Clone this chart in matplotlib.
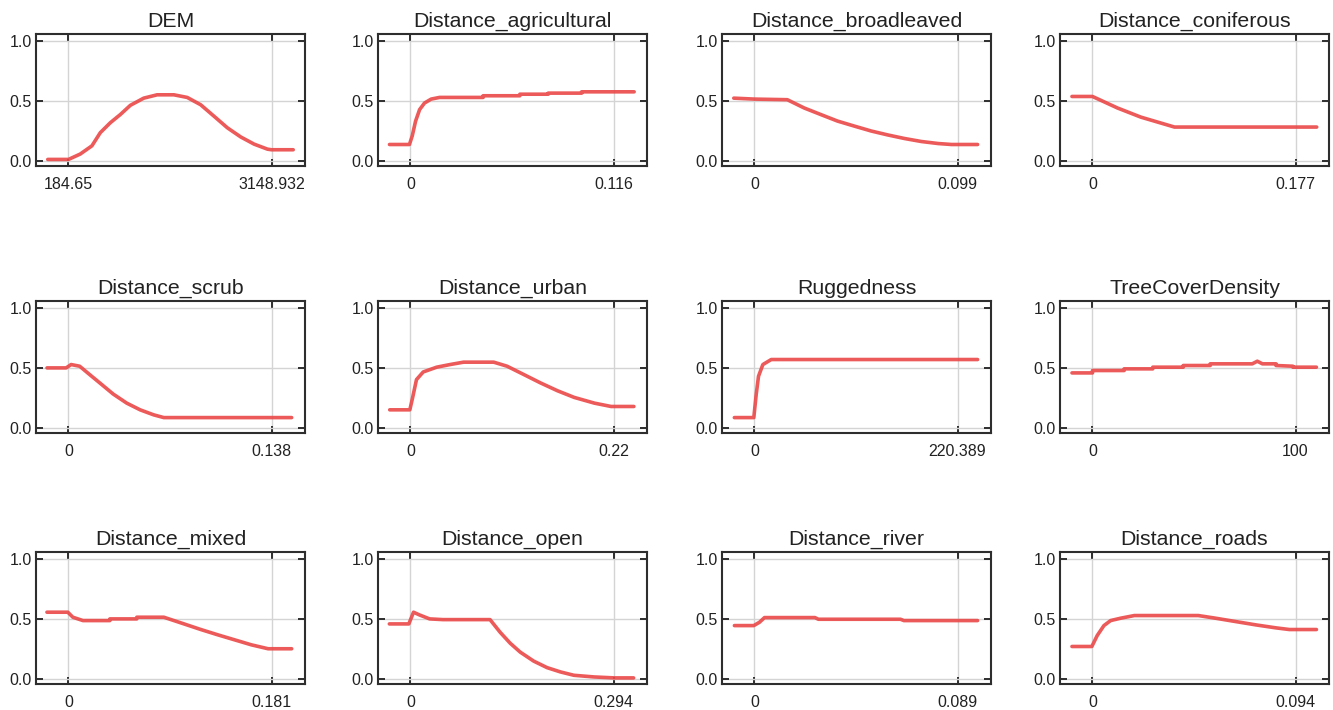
import matplotlib
matplotlib.use("Agg")
import matplotlib.pyplot as plt

plt.rcParams["font.family"] = ["Liberation Sans", "DejaVu Sans"]

# Panel titles, in row order
VARIABLES = [
    "DEM", "Distance_agricultural", "Distance_broadleaved", "Distance_coniferous",
    "Distance_scrub", "Distance_urban", "Ruggedness", "TreeCoverDensity",
    "Distance_mixed", "Distance_open", "Distance_river", "Distance_roads",
]

# Range of each variable (x ticks) and their labels
X_MIN = [184.65, 0, 0, 0, 0, 0, 0, 0, 0, 0, 0, 0]
X_MAX = [3148.932, 0.116, 0.099, 0.177, 0.138, 0.22, 220.389, 100, 0.181, 0.294, 0.089, 0.094]
X_LABELS = [
    ("184.65", "3148.932"), ("0", "0.116"), ("0", "0.099"), ("0", "0.177"),
    ("0", "0.138"), ("0", "0.22"), ("0", "220.389"), ("0", "100"),
    ("0", "0.181"), ("0", "0.294"), ("0", "0.089"), ("0", "0.094"),
]

# Response curves
dem_x = [-118, 184.65, 356, 527, 649, 795, 942, 1088, 1283, 1479, 1723, 1918,
         2114, 2309, 2504, 2700, 2895, 3090, 3148.9, 3466]
dem_y = [0.01, 0.01, 0.055, 0.124, 0.234, 0.317, 0.386, 0.463, 0.523, 0.551, 0.551,
         0.529, 0.468, 0.372, 0.275, 0.198, 0.138, 0.096, 0.091, 0.091]

agri_x = [-0.012, -0.0006, 0.001, 0.0029, 0.0052, 0.008, 0.0118, 0.0166, 0.0415, 0.0415,
          0.0625, 0.0625, 0.0787, 0.0787, 0.0978, 0.0978, 0.1278]
agri_y = [0.135, 0.135, 0.207, 0.33, 0.427, 0.482, 0.515, 0.529, 0.529, 0.543,
          0.543, 0.556, 0.556, 0.565, 0.565, 0.576, 0.576]

broad_x = [-0.0101, 0.0, 0.016, 0.0242, 0.0323, 0.0405, 0.0487, 0.0569, 0.065, 0.0732,
           0.0814, 0.0896, 0.0961, 0.1088]
broad_y = [0.523, 0.515, 0.51, 0.441, 0.386, 0.331, 0.289, 0.248, 0.215, 0.185,
           0.16, 0.143, 0.135, 0.135]

conif_x = [-0.0179, 0.0, 0.0217, 0.0422, 0.0715, 0.1955]
conif_y = [0.537, 0.537, 0.441, 0.364, 0.281, 0.281]

scrub_x = [-0.0146, -0.0016, 0.0018, 0.0076, 0.0144, 0.0213, 0.0304, 0.0396, 0.0487,
           0.0579, 0.0648, 0.1517]
scrub_y = [0.5, 0.5, 0.528, 0.514, 0.444, 0.374, 0.281, 0.205, 0.149, 0.107, 0.084, 0.084]

urban_x = [-0.0225, -0.0007, 0.0022, 0.0065, 0.0138, 0.0284, 0.0429, 0.0575, 0.0902,
           0.1047, 0.1229, 0.141, 0.1592, 0.1774, 0.1993, 0.2174, 0.2421]
urban_y = [0.149, 0.149, 0.247, 0.402, 0.466, 0.506, 0.528, 0.548, 0.548, 0.514,
           0.444, 0.374, 0.309, 0.253, 0.205, 0.177, 0.177]

rugged_x = [-21.86, -0.73, 1.82, 4.37, 9.1, 18.2, 242.2]
rugged_y = [0.084, 0.084, 0.275, 0.43, 0.528, 0.57, 0.57]

tree_x = [-10.1, 0.0, 0.0, 15.6, 15.6, 29.7, 29.7, 44.7, 44.7, 58.0, 58.0, 78.7, 81.2,
          83.7, 90.4, 90.4, 98.7, 98.7, 110.3]
tree_y = [0.458, 0.458, 0.478, 0.478, 0.492, 0.492, 0.506, 0.506, 0.52, 0.52, 0.534,
          0.534, 0.556, 0.534, 0.534, 0.52, 0.514, 0.506, 0.506]

mixed_x = [-0.0192, -0.0006, 0.0039, 0.0129, 0.0369, 0.0369, 0.0609, 0.0609, 0.085,
           0.103, 0.118, 0.133, 0.148, 0.163, 0.178, 0.199]
mixed_y = [0.556, 0.556, 0.514, 0.486, 0.486, 0.5, 0.5, 0.514, 0.514, 0.458, 0.411,
           0.367, 0.325, 0.283, 0.25, 0.25]

open_x = [-0.0306, -0.0024, 0.0044, 0.0131, 0.0277, 0.0471, 0.1152, 0.1297, 0.1443,
          0.1589, 0.1783, 0.1978, 0.2172, 0.2366, 0.2658, 0.2955, 0.3231]
open_y = [0.458, 0.458, 0.556, 0.533, 0.5, 0.494, 0.494, 0.389, 0.297, 0.222, 0.147,
          0.092, 0.056, 0.028, 0.014, 0.006, 0.006]

river_x = [-0.0088, -0.0003, 0.0022, 0.0044, 0.0265, 0.028, 0.064, 0.0655, 0.0978]
river_y = [0.444, 0.444, 0.472, 0.511, 0.511, 0.497, 0.497, 0.486, 0.486]

roads_x = [-0.0095, -0.0003, 0.0022, 0.0053, 0.0084, 0.0131, 0.0194, 0.049, 0.0569,
           0.0662, 0.0756, 0.0849, 0.0912, 0.1037]
roads_y = [0.269, 0.269, 0.361, 0.444, 0.486, 0.506, 0.528, 0.528, 0.506, 0.478,
           0.45, 0.425, 0.411, 0.411]

CURVES = [
    (dem_x, dem_y), (agri_x, agri_y), (broad_x, broad_y), (conif_x, conif_y),
    (scrub_x, scrub_y), (urban_x, urban_y), (rugged_x, rugged_y), (tree_x, tree_y),
    (mixed_x, mixed_y), (open_x, open_y), (river_x, river_y), (roads_x, roads_y),
]

Y_TICKS = [0.0, 0.5, 1.0]

FIG_W, FIG_H = 1333, 710
COL_LEFT = [36, 378, 722, 1060]
AX_W = 269
ROW_TOP = [34, 301, 552]
AX_H = 132

LINE_COLOR = "#ea4848"
FRAME_COLOR = "#2e2e2e"
GRID_COLOR = "#d4d4d4"


def draw_panel(ax, name, xs, ys, xmin, xmax, labels):
    span = xmax - xmin
    ax.plot(xs, ys, color=LINE_COLOR, lw=2.6, alpha=0.9, solid_capstyle="round", zorder=3)
    ax.set_xlim(xmin - 0.16 * span, xmax + 0.165 * span)
    ax.set_ylim(-0.045, 1.06)
    ax.set_xticks([xmin, xmax])
    ax.set_xticklabels(labels)
    ax.set_yticks(Y_TICKS)
    ax.set_yticklabels([f"{v:.1f}" for v in Y_TICKS])
    ax.grid(True, color=GRID_COLOR, lw=1.0, zorder=1)
    ax.tick_params(axis="both", direction="in", length=5, width=1.4, color=FRAME_COLOR,
                   top=True, right=True, labelsize=11.5, labelcolor="#222222")
    ax.tick_params(axis="x", pad=8)
    ax.tick_params(axis="y", pad=3)
    for spine in ax.spines.values():
        spine.set_color(FRAME_COLOR)
        spine.set_linewidth(1.5)
    ax.set_title(name, fontsize=15.3, color="#222222", pad=5)


def main():
    fig = plt.figure(figsize=(FIG_W / 100, FIG_H / 100), dpi=100)
    for i, name in enumerate(VARIABLES):
        row, col = divmod(i, 4)
        left = COL_LEFT[col] / FIG_W
        bottom = (FIG_H - ROW_TOP[row] - AX_H) / FIG_H
        ax = fig.add_axes([left, bottom, AX_W / FIG_W, AX_H / FIG_H])
        xs, ys = CURVES[i]
        draw_panel(ax, name, xs, ys, X_MIN[i], X_MAX[i], X_LABELS[i])
    fig.savefig("out.png", dpi=100)
    plt.close(fig)


if __name__ == "__main__":
    main()
